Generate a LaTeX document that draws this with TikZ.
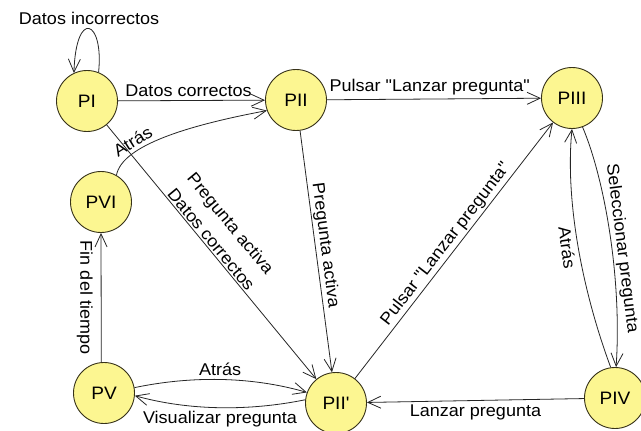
\documentclass[tikz,border=0pt]{standalone}
\usepackage{fontspec}
\newfontfamily\labfont{Liberation Sans}[FakeStretch=1.06]
\usetikzlibrary{arrows.meta}
\definecolor{stateyellow}{RGB}{252,246,145}
\definecolor{ringline}{RGB}{55,50,25}
\begin{document}
\begin{tikzpicture}[x=1pt,y=-1pt,
  every node/.style={font=\labfont\fontsize{17}{20}\selectfont},
  state/.style={circle,draw=ringline,line width=0.9pt,fill=stateyellow,
                minimum size=61pt,inner sep=0pt,font=\labfont\fontsize{18}{20}\selectfont},
  arr/.style={draw=black!85,line width=0.8pt,
              -{Straight Barb[length=13pt,width=12pt]}},
  lbl/.style={inner sep=3.5pt},
]
\useasboundingbox (0,0) rectangle (641,431);
\fill[white] (0,0) rectangle (641,431);

% states
\node[state] (PI)   at (87,101)  {PI};
\node[state] (PII)  at (296,100) {PII};
\node[state] (PIII) at (572,98)  {PIII};
\node[state] (PVI)  at (101,202) {PVI};
\node[state] (PV)   at (104,393) {PV};
\node[state] (PIIp) at (336,403) {PII'};
\node[state] (PIV)  at (615,398) {PIV};

% transitions
\draw[arr] (PI.68) .. controls (104,20) and (76,8) .. node[lbl,pos=0.5,above,inner sep=4pt] {Datos incorrectos} (PI.115);

\draw[arr] (PI) -- node[lbl,pos=0.48,above] {Datos correctos} (PII);

\draw[arr] (PVI.60) .. controls (122,145) and (190,125) .. node[lbl,pos=0.31,sloped,above] {Atrás} (PII.200);

\draw[arr] (PI) -- node[pos=0.47,sloped,above,align=center,inner sep=1.5pt,
  font=\labfont\fontsize{17}{25}\selectfont] {Pregunta activa\\Datos correctos} (PIIp);

\draw[arr] (PII) -- node[lbl,pos=0.48,sloped,above,inner sep=1.5pt] {Pregunta activa} (PIIp);

\draw[arr] (PII) -- node[lbl,pos=0.48,above] {Pulsar "Lanzar pregunta"} (PIII);

\draw[arr] (PIIp) -- node[lbl,pos=0.5,sloped,above,inner sep=2pt] {Pulsar "Lanzar pregunta"} (PIII);

\draw[arr] (PIII.-70) .. controls (605,180) and (622,280) .. node[lbl,pos=0.56,sloped,above,inner sep=1.5pt] {Seleccionar pregunta} (PIV.88);

\draw[arr] (PIV.98) .. controls (582,290) and (565,200) .. node[lbl,pos=0.5,rotate=-82,anchor=north,inner sep=4pt] {Atrás} (PIII.-90);

\draw[arr] (PIV) -- node[lbl,pos=0.5,below] {Lanzar pregunta} (PIIp);

\draw[arr] (PV.95) -- node[lbl,pos=0.5,rotate=-90,anchor=north,inner sep=8pt] {Fin del tiempo} (PVI.-90);

\draw[arr] (PV.10) .. controls (190,376) and (250,376) .. node[lbl,pos=0.5,above] {Atrás} (PIIp.160);

\draw[arr] (PIIp.174) .. controls (250,411) and (190,411) .. node[lbl,pos=0.5,below] {Visualizar pregunta} (PV.-5);
\end{tikzpicture}
\end{document}
